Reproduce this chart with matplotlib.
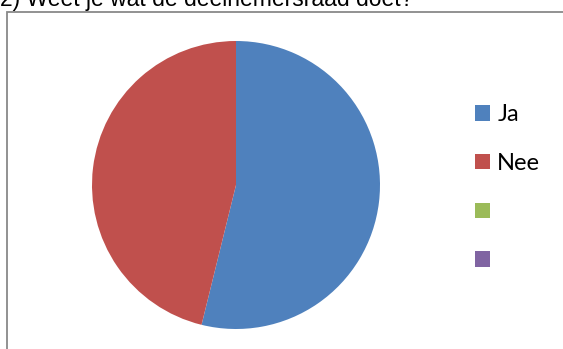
import matplotlib.pyplot as plt
from matplotlib.patches import Rectangle

# Antwoorden op vraag 2
categories = ["Ja", "Nee", "", ""]
counts = [7, 6, 0, 0]
colors = ["#4F81BD", "#C0504D", "#9BBB59", "#8064A2"]
title = "2) Weet je wat de deelnemersraad doet?"

W, H = 563, 349
fig = plt.figure(figsize=(W / 100, H / 100), dpi=100)

# chart frame, runs off the right and bottom edge
fig.add_artist(Rectangle((7.5 / W, -0.1), 1.2, 1 - 12 / H + 0.1,
                         transform=fig.transFigure, fill=False,
                         edgecolor="#898989", linewidth=1.3))

fig.text(0.0, 1 - 6 / H, title, fontsize=16.5, family="Liberation Sans",
         va="baseline", ha="left", color="black")

# pie: centre (236, 185), radius 144 px
cx, cy, r = 236, 185, 144
ax = fig.add_axes([(cx - r) / W, (H - cy - r) / H, 2 * r / W, 2 * r / H])
wedges, _ = ax.pie(counts, colors=colors, startangle=90, counterclock=False,
                   radius=1, wedgeprops=dict(linewidth=0))
ax.set_xlim(-1, 1)
ax.set_ylim(-1, 1)
ax.axis("off")

leg = fig.legend(wedges, categories, loc="upper left",
                 bbox_to_anchor=(475 / W, 1 - 104 / H),
                 frameon=False, prop=dict(family="Lato", size=17),
                 handlelength=0.64, handleheight=0.64, handletextpad=0.3,
                 labelspacing=1.18, borderpad=0, borderaxespad=0)

fig.savefig("out.png", dpi=100)
